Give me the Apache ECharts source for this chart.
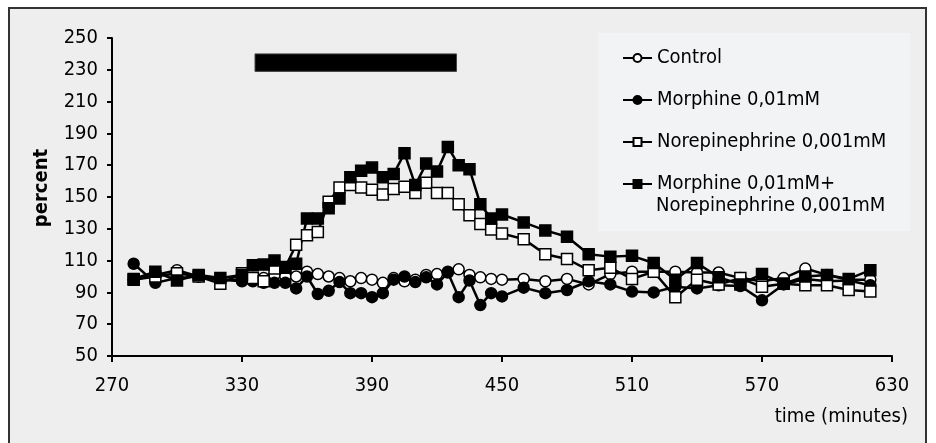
<!DOCTYPE html>
<html>
<head>
<meta charset="utf-8">
<script src="https://cdn.jsdelivr.net/npm/echarts@6/dist/echarts.min.js"></script>
<style>
    html, body { margin: 0; padding: 0; background: #fff; }
    #chart { width: 936px; height: 443px; }
</style>
</head>
<body>
<div id="chart"></div>
<script>
    // time points (minutes)
    var times = [280, 290, 300, 310, 320, 330, 335, 340, 345, 350, 355, 360, 365, 370, 375, 380,
                 385, 390, 395, 400, 405, 410, 415, 420, 425, 430, 435, 440, 445, 450, 460, 470,
                 480, 490, 500, 510, 520, 530, 540, 550, 560, 570, 580, 590, 600, 610, 620];

    var control = [98, 101, 104, 100, 98, 98, 99, 99, 101, 100, 100, 103, 101.5, 100, 99, 97,
                   99, 98, 96, 99, 97, 98, 101, 101.5, 103, 104.5, 101, 99.5, 98.5, 98, 98.5, 97,
                   98.5, 95, 101.5, 103, 103, 103, 102.5, 102.5, 99, 97, 99, 105, 101, 98, 98];

    var morphine = [108, 96, 99, 100, 98, 97, 97, 96, 96, 96, 92.5, 100, 89, 91, 96.5, 89.5,
                    89.5, 87, 89.5, 98, 100, 96.5, 99.5, 95, 102.5, 87, 97.5, 82, 89.5, 87.5, 93, 89.5,
                    91.5, 97, 95, 90.5, 90, 93.5, 92.5, 94.5, 94, 85, 95, 98.5, 97, 97.5, 94.5];

    var norepi = [98, 100, 102, 100, 95.5, 102, 99, 97, 105, 106, 120, 126, 128, 147, 156, 157.5,
                  156, 154.5, 151.5, 155, 156.5, 152.5, 159, 152.5, 152.5, 145.5, 138.5, 133, 129.5, 127, 123.5, 114,
                  111, 104, 105.5, 98.5, 103, 87, 98, 95, 99, 93.5, 95.5, 94.5, 94.5, 91.5, 90.5];

    var morphNorepi = [98.5, 103, 97.5, 101, 99, 101, 107, 107.5, 110, 105.5, 108, 136.5, 136.5, 143, 149, 162.5,
                       166.5, 168.5, 162.5, 164.5, 177.5, 157.5, 171, 166, 181.5, 170, 167.5, 145.5, 136.5, 139, 134, 129,
                       125, 114, 112.5, 113, 108.5, 98, 108.5, 99.5, 95, 101.5, 95.5, 100, 101, 98.5, 104];

    // treatment period bar (time range, percent range)
    var treatTime = [336, 429];
    var treatLevel = [229, 240];

    var seriesNames = ['Control', 'Morphine 0,01mM', 'Norepinephrine 0,001mM', 'Morphine 0,01mM+Norepinephrine 0,001mM'];

    var FONT = '"DejaVu Sans Condensed", "DejaVu Sans", sans-serif';

    function pairs(arr) {
        return times.map(function (t, i) { return [t, arr[i]]; });
    }

    var chart = echarts.init(document.getElementById('chart'));

    function mkSeries(name, values, symbol, fill) {
        return {
            name: name,
            type: 'line',
            data: pairs(values),
            symbol: symbol,
            symbolSize: 11,
            showAllSymbol: true,
            lineStyle: { color: '#000', width: 2.5 },
            itemStyle: { color: fill, borderColor: '#000', borderWidth: 1.5 },
            emphasis: { disabled: true },
            animation: false
        };
    }

    var series = [
        mkSeries(seriesNames[0], control, 'circle', '#fff'),
        mkSeries(seriesNames[1], morphine, 'circle', '#000'),
        mkSeries(seriesNames[2], norepi, 'rect', '#fff'),
        mkSeries(seriesNames[3], morphNorepi, 'rect', '#000')
    ];
    series[0].markArea = {
        silent: true,
        itemStyle: { color: '#000', borderColor: '#444', borderWidth: 1 },
        label: { show: false },
        data: [[{ coord: [treatTime[0], treatLevel[0]] }, { coord: [treatTime[1], treatLevel[1]] }]]
    };

    var option = {
        backgroundColor: '#fff',
        animation: false,
        textStyle: { fontFamily: FONT },
        graphic: [
            {
                type: 'rect', z: -10,
                shape: { x: 9, y: 8, width: 917, height: 450 },
                style: { fill: '#eeeeee', stroke: '#333', lineWidth: 2 }
            },
            {
                type: 'rect', z: 0,
                shape: { x: 598, y: 33, width: 312, height: 198 },
                style: { fill: '#f2f3f5' }
            },
            {
                type: 'text', z: 10,
                style: { text: 'Norepinephrine 0,001mM', x: 656, y: 206, font: '20px ' + FONT,
                         fill: '#000', textVerticalAlign: 'middle' }
            },
            {
                type: 'text', z: 10,
                style: { text: 'time (minutes)', x: 908, y: 417, font: '20px ' + FONT,
                         fill: '#000', textAlign: 'right', textVerticalAlign: 'middle' }
            },
            {
                type: 'text', z: 10, x: 42, y: 188, rotation: Math.PI / 2,
                style: { text: 'percent', x: 0, y: 0, font: 'bold 20px ' + FONT,
                         fill: '#000', textAlign: 'center', textVerticalAlign: 'middle' }
            }
        ],
        legend: {
            orient: 'vertical',
            left: 622,
            top: 47,
            padding: 0,
            itemGap: 20,
            itemWidth: 29,
            itemHeight: 10,
            data: seriesNames,
            formatter: function (name) {
                var k = name.indexOf('+');
                return k >= 0 ? name.slice(0, k + 1) : name;
            },
            textStyle: { fontFamily: FONT, fontSize: 20, color: '#000', lineHeight: 22 },
            selectedMode: false
        },
        grid: { left: 112, right: 44, top: 38, bottom: 87 },
        xAxis: {
            type: 'value',
            min: 270,
            max: 630,
            interval: 60,
            splitLine: { show: false },
            axisLine: { lineStyle: { color: '#000', width: 2 } },
            axisTick: { length: 6, lineStyle: { color: '#000', width: 2 } },
            axisLabel: { color: '#000', fontSize: 20, fontFamily: FONT, margin: 20 }
        },
        yAxis: {
            type: 'value',
            min: 50,
            max: 250,
            interval: 20,
            splitLine: { show: false },
            axisLine: { show: true, lineStyle: { color: '#000', width: 2 } },
            axisTick: { show: true, length: 5, lineStyle: { color: '#000', width: 2 } },
            axisLabel: { color: '#000', fontSize: 20, fontFamily: FONT, margin: 14 }
        },
        series: series
    };
    chart.setOption(option);
</script>
</body>
</html>
